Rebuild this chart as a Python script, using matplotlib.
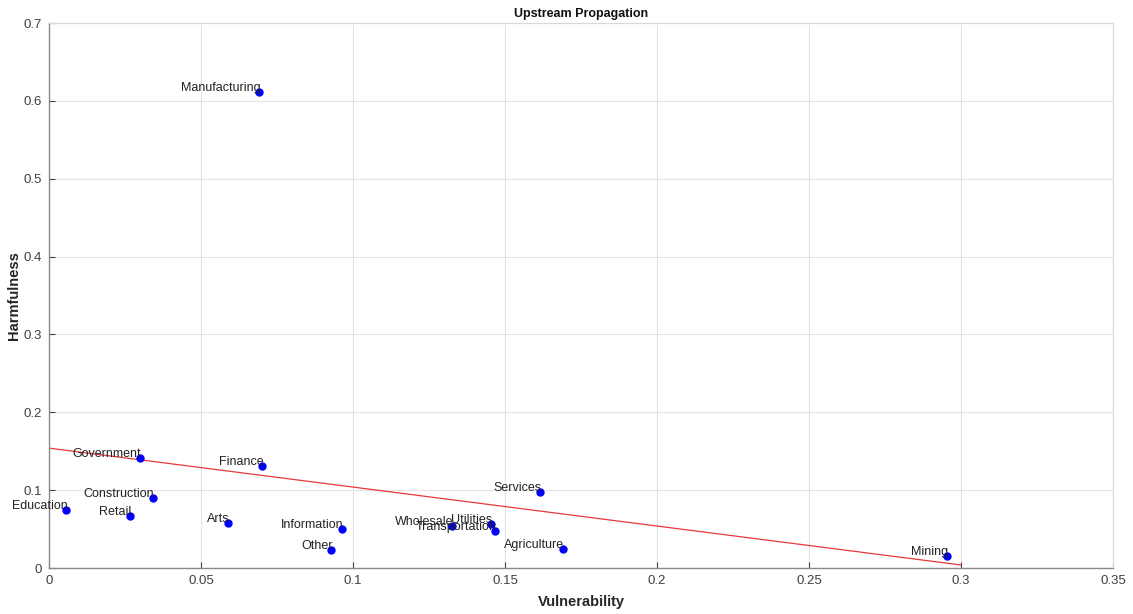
import numpy as np
import matplotlib
matplotlib.use("Agg")
from matplotlib import pyplot as plt

plt.rcParams['font.family'] = ['Liberation Sans', 'DejaVu Sans']

# sector data
sectors = ["Manufacturing", "Government", "Finance", "Services", "Construction",
           "Education", "Retail", "Arts", "Information", "Wholesale", "Utilities",
           "Transportation", "Other", "Agriculture", "Mining"]
vulnerability = [0.0691, 0.0299, 0.0700, 0.1615, 0.0342, 0.0056, 0.0266, 0.0589,
                 0.0964, 0.1326, 0.1454, 0.1467, 0.0928, 0.1690, 0.2954]
harmfulness = [0.611, 0.141, 0.131, 0.0976, 0.090, 0.0745, 0.0668, 0.0578,
               0.050, 0.054, 0.0565, 0.0475, 0.0231, 0.0244, 0.0154]

# fitted trend line end points
fit_x = [0.0, 0.3]
fit_y = [0.154, 0.0039]

fig = plt.figure(figsize=(11.33, 6.14), dpi=100)
ax = fig.add_axes([0.0432, 0.0749, 0.9391, 0.8876])

ax.plot(fit_x, fit_y, color="#e8383d", lw=0.9, zorder=2)
ax.plot(vulnerability, harmfulness, "o", color="#0000ff", markersize=5, zorder=3)
for name, vx, hy in zip(sectors, vulnerability, harmfulness):
    ax.annotate(name, (vx, hy), xytext=(1, -1.5), textcoords="offset points",
                ha="right", va="bottom", fontsize=9, color="#222222", zorder=4)

ax.set_xlim(0, 0.35)
ax.set_ylim(0, 0.7)
ax.set_xticks(np.arange(0, 0.351, 0.05))
ax.set_xticklabels(["0", "0.05", "0.1", "0.15", "0.2", "0.25", "0.3", "0.35"])
ax.set_yticks(np.arange(0, 0.71, 0.1))
ax.set_yticklabels(["0", "0.1", "0.2", "0.3", "0.4", "0.5", "0.6", "0.7"])
ax.grid(True, color="#e3e3e3", lw=0.8)
ax.set_axisbelow(True)
ax.tick_params(direction="in", length=4, colors="#404040", labelsize=9.5,
               labelcolor="#404040", pad=5)
for s in ["left", "bottom"]:
    ax.spines[s].set_color("#8a8a8a")
    ax.spines[s].set_linewidth(1.0)
for s in ["top", "right"]:
    ax.spines[s].set_color("#d8d8d8")
    ax.spines[s].set_linewidth(0.8)

ax.set_xlabel("Vulnerability", fontsize=10.5, fontweight="bold", color="#262626", labelpad=6)
ax.set_ylabel("Harmfulness", fontsize=10.5, fontweight="bold", color="#262626", labelpad=2)
ax.set_title("Upstream Propagation", fontsize=9, fontweight="bold", color="#111111", pad=4)

fig.savefig("out.png", dpi=100)
